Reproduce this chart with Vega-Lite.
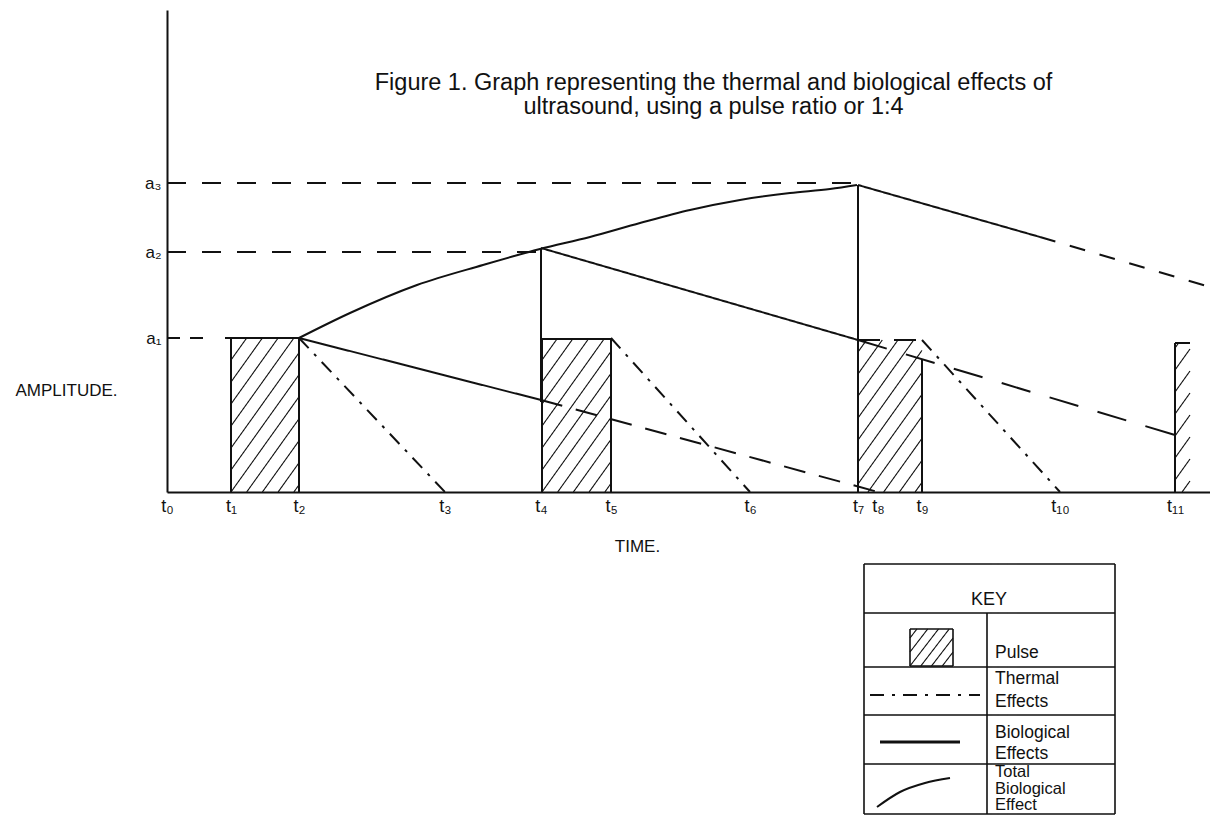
{
  "$schema": "https://vega.github.io/schema/vega-lite/v6.json",
  "width": 1043,
  "height": 482,
  "autosize": {"type": "none"},
  "padding": {"left": 167, "top": 10, "right": 0, "bottom": 323},
  "background": "white",
  "config": {"view": {"stroke": null}, "font": "Liberation Sans"},
  "title": {
    "text": ["Figure 1. Graph representing the thermal and biological effects of", "ultrasound, using a pulse ratio or 1:4"],
    "anchor": "middle",
    "font": "Liberation Sans",
    "fontSize": 23.5,
    "fontWeight": "normal",
    "color": "#111",
    "lineHeight": 24,
    "baseline": "top",
    "offset": 0,
    "dx": 25,
    "dy": 108
  },
  "datasets": {
    "segments": [
      {"s": "solid", "x": 132, "y": 154, "x2": 374, "y2": 92},
      {"s": "solid", "x": 374, "y": 90, "x2": 374, "y2": 244},
      {"s": "solid", "x": 374, "y": 244, "x2": 691, "y2": 152},
      {"s": "solid", "x": 691, "y": 0, "x2": 691, "y2": 307},
      {"s": "solid", "x": 691, "y": 307, "x2": 873, "y2": 255},
      {"s": "fine", "x": 873, "y": 255, "x2": 1043, "y2": 205},
      {"s": "solid", "x": 64, "y": 0, "x2": 64, "y2": 154},
      {"s": "solid", "x": 132, "y": 0, "x2": 132, "y2": 154},
      {"s": "solid", "x": 58, "y": 154, "x2": 134, "y2": 154},
      {"s": "solid", "x": 375, "y": 0, "x2": 375, "y2": 153},
      {"s": "solid", "x": 444, "y": 0, "x2": 444, "y2": 153},
      {"s": "solid", "x": 375, "y": 153, "x2": 444, "y2": 153},
      {"s": "dash", "x": 691, "y": 152, "x2": 755, "y2": 152},
      {"s": "solid", "x": 755, "y": 0, "x2": 755, "y2": 132},
      {"s": "solid", "x": 1008, "y": 0, "x2": 1008, "y2": 149},
      {"s": "solid", "x": 1008, "y": 149, "x2": 1023, "y2": 149},
      {"s": "a1", "x": 0, "y": 154, "x2": 44, "y2": 154},
      {"s": "ref", "x": 0, "y": 240, "x2": 374, "y2": 240},
      {"s": "ref", "x": 0, "y": 309, "x2": 691, "y2": 309},
      {"s": "dash", "x": 374, "y": 92, "x2": 711, "y2": 0},
      {"s": "longdash", "x": 691, "y": 152, "x2": 1008, "y2": 57},
      {"s": "dashdot", "x": 132, "y": 154, "x2": 278, "y2": 0},
      {"s": "dashdot", "x": 444, "y": 154, "x2": 583, "y2": 0},
      {"s": "dashdot", "x": 755, "y": 152, "x2": 893, "y2": 0},
      {"s": "border", "x": 697, "y": -72, "x2": 697, "y2": -322},
      {"s": "border", "x": 948, "y": -72, "x2": 948, "y2": -322},
      {"s": "border", "x": 697, "y": -72, "x2": 948, "y2": -72},
      {"s": "border", "x": 697, "y": -121, "x2": 948, "y2": -121},
      {"s": "border", "x": 697, "y": -175, "x2": 948, "y2": -175},
      {"s": "border", "x": 697, "y": -223, "x2": 948, "y2": -223},
      {"s": "border", "x": 697, "y": -272, "x2": 948, "y2": -272},
      {"s": "border", "x": 697, "y": -322, "x2": 948, "y2": -322},
      {"s": "border", "x": 820, "y": -121, "x2": 820, "y2": -322},
      {"s": "border", "x": 743, "y": -174, "x2": 786, "y2": -174},
      {"s": "border", "x": 743, "y": -137, "x2": 786, "y2": -137},
      {"s": "border", "x": 743, "y": -174, "x2": 743, "y2": -137},
      {"s": "border", "x": 786, "y": -174, "x2": 786, "y2": -137},
      {"s": "dashdot", "x": 703, "y": -203, "x2": 813, "y2": -203},
      {"s": "thick", "x": 713, "y": -250, "x2": 793, "y2": -250},
      {"s": "hatch", "x": 126.9, "y": 0, "x2": 132, "y2": 7.2},
      {"s": "hatch", "x": 111.1, "y": 0, "x2": 132, "y2": 29.2},
      {"s": "hatch", "x": 95.4, "y": 0, "x2": 132, "y2": 51.2},
      {"s": "hatch", "x": 79.7, "y": 0, "x2": 132, "y2": 73.2},
      {"s": "hatch", "x": 64, "y": 0, "x2": 132, "y2": 95.2},
      {"s": "hatch", "x": 64, "y": 22, "x2": 132, "y2": 117.2},
      {"s": "hatch", "x": 64, "y": 44, "x2": 132, "y2": 139.2},
      {"s": "hatch", "x": 64, "y": 66, "x2": 126.9, "y2": 154},
      {"s": "hatch", "x": 64, "y": 88, "x2": 111.1, "y2": 154},
      {"s": "hatch", "x": 64, "y": 110, "x2": 95.4, "y2": 154},
      {"s": "hatch", "x": 64, "y": 132, "x2": 79.7, "y2": 154},
      {"s": "hatch", "x": 437.9, "y": 0, "x2": 444, "y2": 8.6},
      {"s": "hatch", "x": 422.1, "y": 0, "x2": 444, "y2": 30.6},
      {"s": "hatch", "x": 406.4, "y": 0, "x2": 444, "y2": 52.6},
      {"s": "hatch", "x": 390.7, "y": 0, "x2": 444, "y2": 74.6},
      {"s": "hatch", "x": 375, "y": 0, "x2": 444, "y2": 96.6},
      {"s": "hatch", "x": 375, "y": 22, "x2": 444, "y2": 118.6},
      {"s": "hatch", "x": 375, "y": 44, "x2": 444, "y2": 140.6},
      {"s": "hatch", "x": 375, "y": 66, "x2": 437.1, "y2": 153},
      {"s": "hatch", "x": 375, "y": 88, "x2": 421.4, "y2": 153},
      {"s": "hatch", "x": 375, "y": 110, "x2": 405.7, "y2": 153},
      {"s": "hatch", "x": 375, "y": 132, "x2": 390, "y2": 153},
      {"s": "hatch", "x": 748.1, "y": 0, "x2": 755, "y2": 9.6},
      {"s": "hatch", "x": 732.4, "y": 0, "x2": 755, "y2": 31.6},
      {"s": "hatch", "x": 716.7, "y": 0, "x2": 755, "y2": 53.6},
      {"s": "hatch", "x": 701, "y": 0, "x2": 755, "y2": 75.6},
      {"s": "hatch", "x": 691, "y": 8, "x2": 755, "y2": 97.6},
      {"s": "hatch", "x": 691, "y": 30, "x2": 755, "y2": 119.6},
      {"s": "hatch", "x": 691, "y": 52, "x2": 755, "y2": 141.6},
      {"s": "hatch", "x": 691, "y": 74, "x2": 746.7, "y2": 152},
      {"s": "hatch", "x": 691, "y": 96, "x2": 731, "y2": 152},
      {"s": "hatch", "x": 691, "y": 118, "x2": 715.3, "y2": 152},
      {"s": "hatch", "x": 691, "y": 140, "x2": 699.6, "y2": 152},
      {"s": "hatch", "x": 1015.1, "y": 0, "x2": 1023, "y2": 11},
      {"s": "hatch", "x": 1008, "y": 12, "x2": 1023, "y2": 33},
      {"s": "hatch", "x": 1008, "y": 34, "x2": 1023, "y2": 55},
      {"s": "hatch", "x": 1008, "y": 56, "x2": 1023, "y2": 77},
      {"s": "hatch", "x": 1008, "y": 78, "x2": 1023, "y2": 99},
      {"s": "hatch", "x": 1008, "y": 100, "x2": 1023, "y2": 121},
      {"s": "hatch", "x": 1008, "y": 122, "x2": 1023, "y2": 143},
      {"s": "hatch", "x": 1008, "y": 144, "x2": 1011.6, "y2": 149},
      {"s": "hatch", "x": 775.3, "y": -174, "x2": 786, "y2": -160.1},
      {"s": "hatch", "x": 764.5, "y": -174, "x2": 786, "y2": -146.1},
      {"s": "hatch", "x": 753.8, "y": -174, "x2": 782.2, "y2": -137},
      {"s": "hatch", "x": 743, "y": -174, "x2": 771.5, "y2": -137},
      {"s": "hatch", "x": 743, "y": -160, "x2": 760.7, "y2": -137},
      {"s": "hatch", "x": 743, "y": -146, "x2": 749.9, "y2": -137}
    ],
    "curves": [
      {"c": "total", "x": 132, "y": 154},
      {"c": "total", "x": 183, "y": 179},
      {"c": "total", "x": 250, "y": 207},
      {"c": "total", "x": 316, "y": 227},
      {"c": "total", "x": 373, "y": 243},
      {"c": "total", "x": 423, "y": 255},
      {"c": "total", "x": 473, "y": 269},
      {"c": "total", "x": 523, "y": 282},
      {"c": "total", "x": 573, "y": 292},
      {"c": "total", "x": 623, "y": 299},
      {"c": "total", "x": 663, "y": 303},
      {"c": "total", "x": 690, "y": 307},
      {"c": "icon", "x": 710, "y": -315},
      {"c": "icon", "x": 733, "y": -300},
      {"c": "icon", "x": 758, "y": -291},
      {"c": "icon", "x": 783, "y": -286}
    ],
    "keyhead": [{"label": "KEY", "x": 822, "y": -108}],
    "keytext": [
      {"label": "Pulse", "x": 828, "y": -161},
      {"label": "Thermal", "x": 828, "y": -187},
      {"label": "Effects", "x": 828, "y": -210},
      {"label": "Biological", "x": 828, "y": -241},
      {"label": "Effects", "x": 828, "y": -262}
    ],
    "keytotal": [
      {"label": "Total\nBiological\nEffect", "x": 828, "y": -280}
    ]
  },
  "encoding": {
    "x": {
      "field": "x", "type": "quantitative",
      "scale": {"domain": [0, 1043], "nice": false, "zero": false},
      "axis": {
        "values": [0, 64, 132, 278, 374, 444, 583, 691, 711, 755, 893, 1008],
        "labelExpr": "datum.value == 0 ? 't₀' : datum.value == 64 ? 't₁' : datum.value == 132 ? 't₂' : datum.value == 278 ? 't₃' : datum.value == 374 ? 't₄' : datum.value == 444 ? 't₅' : datum.value == 583 ? 't₆' : datum.value == 691 ? 't₇' : datum.value == 711 ? 't₈' : datum.value == 755 ? 't₉' : datum.value == 893 ? 't₁₀' : 't₁₁'",
        "ticks": false, "grid": false,
        "domainColor": "#111", "domainWidth": 2,
        "labelFont": "Liberation Sans", "labelFontSize": 18, "labelColor": "#111",
        "labelPadding": 5, "labelOverlap": false, "labelFlush": false, "labelBound": false,
        "title": "TIME.", "titleFont": "Liberation Sans", "titleFontSize": 17, "titleFontWeight": "normal", "titleColor": "#111",
        "titleX": 470, "titleY": 54, "titleAlign": "center", "titleBaseline": "middle"
      }
    },
    "y": {
      "field": "y", "type": "quantitative",
      "scale": {"domain": [0, 482], "nice": false},
      "axis": {
        "values": [154, 240, 309],
        "labelExpr": "datum.value == 154 ? 'a₁' : datum.value == 240 ? 'a₂' : 'a₃'",
        "ticks": false, "grid": false,
        "domainColor": "#111", "domainWidth": 2,
        "labelFont": "Liberation Sans", "labelFontSize": 17, "labelColor": "#111",
        "labelPadding": 6,
        "title": "AMPLITUDE.", "titleAngle": 0, "titleFont": "Liberation Sans", "titleFontSize": 17, "titleFontWeight": "normal", "titleColor": "#111",
        "titleX": -101, "titleY": 380, "titleAlign": "center", "titleBaseline": "middle"
      }
    }
  },
  "layer": [
    {
      "data": {"name": "segments"},
      "mark": {"type": "rule", "color": "#111", "strokeCap": "butt"},
      "encoding": {
        "x2": {"field": "x2"},
        "y2": {"field": "y2"},
        "strokeDash": {
          "field": "s", "type": "nominal",
          "scale": {
            "domain": ["solid", "thick", "border", "hatch", "fine", "dash", "a1", "ref", "longdash", "dashdot"],
            "range": [[1, 0], [1, 0], [1, 0], [1, 0], [16, 15], [22, 14], [13, 10], [19, 16], [30, 20], [14, 8, 3, 8]]
          },
          "legend": null
        },
        "strokeWidth": {
          "field": "s", "type": "ordinal",
          "scale": {
            "type": "ordinal",
            "domain": ["solid", "thick", "border", "hatch", "fine", "dash", "a1", "ref", "longdash", "dashdot"],
            "range": [2, 2.8, 1.6, 1.1, 2, 2, 2, 2, 2, 2]
          },
          "legend": null
        }
      }
    },
    {
      "data": {"name": "curves"},
      "mark": {"type": "line", "color": "#111", "strokeWidth": 2, "interpolate": "monotone"},
      "encoding": {
        "detail": {"field": "c"},
        "order": {"field": "x", "type": "quantitative"}
      }
    },
    {
      "data": {"name": "keyhead"},
      "mark": {"type": "text", "align": "center", "baseline": "middle", "font": "Liberation Sans", "fontSize": 18, "color": "#111"},
      "encoding": {
        "text": {"field": "label"}
      }
    },
    {
      "data": {"name": "keytext"},
      "mark": {"type": "text", "align": "left", "baseline": "middle", "font": "Liberation Sans", "fontSize": 17.5, "color": "#111"},
      "encoding": {
        "text": {"field": "label"}
      }
    },
    {
      "data": {"name": "keytotal"},
      "mark": {"type": "text", "align": "left", "baseline": "middle", "font": "Liberation Sans", "fontSize": 16.5, "lineHeight": 16.5, "lineBreak": "\n", "color": "#111"},
      "encoding": {
        "text": {"field": "label"}
      }
    }
  ]
}
